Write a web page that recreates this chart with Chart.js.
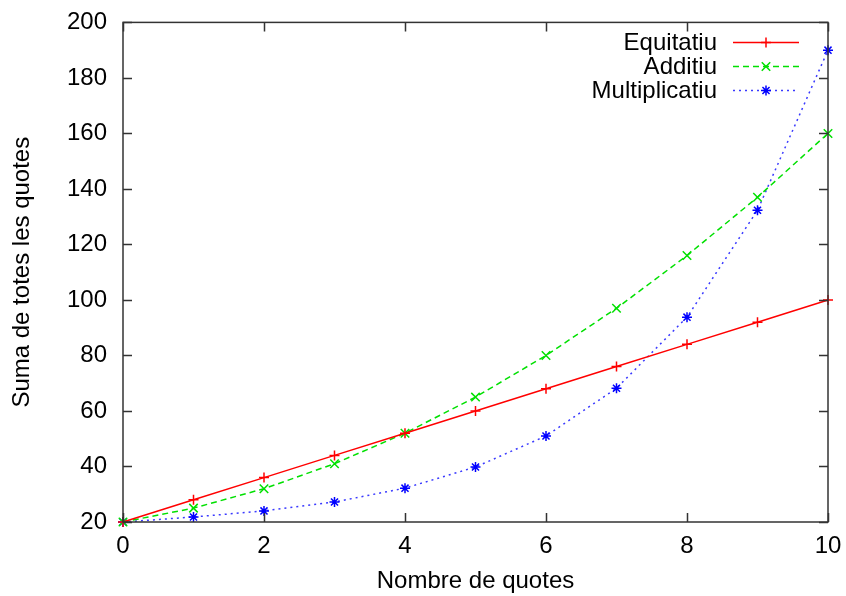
<!DOCTYPE html>
<html>
<head>
<meta charset="utf-8">
<script src="https://cdn.jsdelivr.net/npm/chart.js@4.4.1/dist/chart.umd.min.js"></script>
<style>
  html, body { margin: 0; padding: 0; background: #fff; }
  #wrap { width: 846px; height: 596px; }
</style>
</head>
<body>
<div id="wrap"><canvas id="chart" width="846" height="596"></canvas></div>
<script>
// --- data ---
const quotes = [0, 1, 2, 3, 4, 5, 6, 7, 8, 9, 10];
const equitatiu = [20, 28, 36, 44, 52, 60, 68, 76, 84, 92, 100];
const additiu = [20, 25, 32, 41, 52, 65, 80, 97, 116, 137, 160];
const multiplicatiu = [20, 21.8, 24, 27.2, 32.2, 39.8, 51, 68.2, 93.8, 132.3, 190];
const seriesNames = ['Equitatiu', 'Additiu', 'Multiplicatiu'];

const FONT = 'Liberation Sans, Arial, sans-serif';
const FONT_SIZE = 24;

function toPoints(ys) {
  return quotes.map((x, i) => ({ x: x, y: ys[i] }));
}

// gnuplot-like frame with inward ticks on all four sides
const frameTicks = {
  id: 'frameTicks',
  afterDatasetsDraw(chart) {
    const { ctx, chartArea: a, scales } = chart;
    const len = 9;
    ctx.save();
    ctx.strokeStyle = '#333';
    ctx.lineWidth = 1.5;
    ctx.strokeRect(a.left, a.top, a.right - a.left, a.bottom - a.top);
    ctx.beginPath();
    scales.x.ticks.forEach(t => {
      const px = Math.round(scales.x.getPixelForValue(t.value)) + 0.5;
      ctx.moveTo(px, a.bottom); ctx.lineTo(px, a.bottom - len);
      ctx.moveTo(px, a.top); ctx.lineTo(px, a.top + len);
    });
    scales.y.ticks.forEach(t => {
      const py = Math.round(scales.y.getPixelForValue(t.value)) + 0.5;
      ctx.moveTo(a.left, py); ctx.lineTo(a.left + len, py);
      ctx.moveTo(a.right, py); ctx.lineTo(a.right - len, py);
    });
    ctx.stroke();
    ctx.restore();
  }
};

// key in the top right corner: text first, then a line sample with marker
const keyBox = {
  id: 'keyBox',
  afterDraw(chart) {
    const { ctx } = chart;
    const textRight = 717, x0 = 733, x1 = 799, rows = [42, 66, 90];
    ctx.save();
    ctx.font = FONT_SIZE + 'px ' + FONT;
    ctx.textAlign = 'right';
    ctx.textBaseline = 'middle';
    chart.data.datasets.forEach((ds, i) => {
      const y = rows[i];
      ctx.fillStyle = '#000';
      ctx.fillText(ds.label, textRight, y + 1);
      ctx.strokeStyle = ds.borderColor;
      ctx.lineWidth = ds.borderWidth;
      ctx.setLineDash(ds.borderDash || []);
      ctx.beginPath();
      ctx.moveTo(x0, y + 0.5);
      ctx.lineTo(x1, y + 0.5);
      ctx.stroke();
      ctx.setLineDash([]);
      ctx.strokeStyle = ds.pointBorderColor;
      Chart.helpers.drawPoint(ctx, {
        pointStyle: ds.pointStyle,
        radius: ds.pointRadius,
        borderWidth: ds.pointBorderWidth,
        rotation: 0
      }, (x0 + x1) / 2, y + 0.5);
    });
    ctx.restore();
  }
};

const baseSeries = {
  fill: false,
  tension: 0,
  borderWidth: 1.5,
  pointRadius: 5,
  pointBorderWidth: 1.5,
  pointBackgroundColor: 'transparent'
};

const chart = new Chart(document.getElementById('chart'), {
  type: 'line',
  data: {
    datasets: [
      Object.assign({}, baseSeries, {
        label: seriesNames[0],
        data: toPoints(equitatiu),
        borderColor: '#ff0000',
        pointBorderColor: '#ff0000',
        pointStyle: 'cross'
      }),
      Object.assign({}, baseSeries, {
        label: seriesNames[1],
        data: toPoints(additiu),
        borderColor: '#00e000',
        pointBorderColor: '#00e000',
        borderDash: [6, 4],
        pointStyle: 'crossRot',
        pointRadius: 6
      }),
      Object.assign({}, baseSeries, {
        label: seriesNames[2],
        data: toPoints(multiplicatiu),
        borderColor: '#3a3aff',
        pointBorderColor: '#0000ff',
        borderDash: [2, 4],
        pointStyle: 'star'
      })
    ]
  },
  options: {
    responsive: false,
    animation: false,
    clip: false,
    layout: { padding: { left: 0, right: 18, top: 15, bottom: 0 } },
    plugins: {
      legend: { display: false },
      tooltip: { enabled: false }
    },
    scales: {
      x: {
        type: 'linear',
        min: 0,
        max: 10,
        grid: { display: false },
        border: { display: false },
        ticks: {
          stepSize: 2,
          color: '#000',
          padding: 2,
          maxRotation: 0,
          font: { family: FONT, size: FONT_SIZE }
        },
        title: {
          display: true,
          text: 'Nombre de quotes',
          color: '#000',
          padding: { top: 4, bottom: 0 },
          font: { family: FONT, size: FONT_SIZE }
        },
        afterFit(scale) { scale.height = 74; }
      },
      y: {
        min: 20,
        max: 200,
        grid: { display: false },
        border: { display: false },
        ticks: {
          stepSize: 20,
          color: '#000',
          padding: 8,
          font: { family: FONT, size: FONT_SIZE }
        },
        title: {
          display: true,
          text: 'Suma de totes les quotes',
          color: '#000',
          padding: { top: 8, bottom: 0 },
          font: { family: FONT, size: FONT_SIZE }
        },
        afterFit(scale) { scale.width = 123; }
      }
    }
  },
  plugins: [frameTicks, keyBox]
});
</script>
</body>
</html>
